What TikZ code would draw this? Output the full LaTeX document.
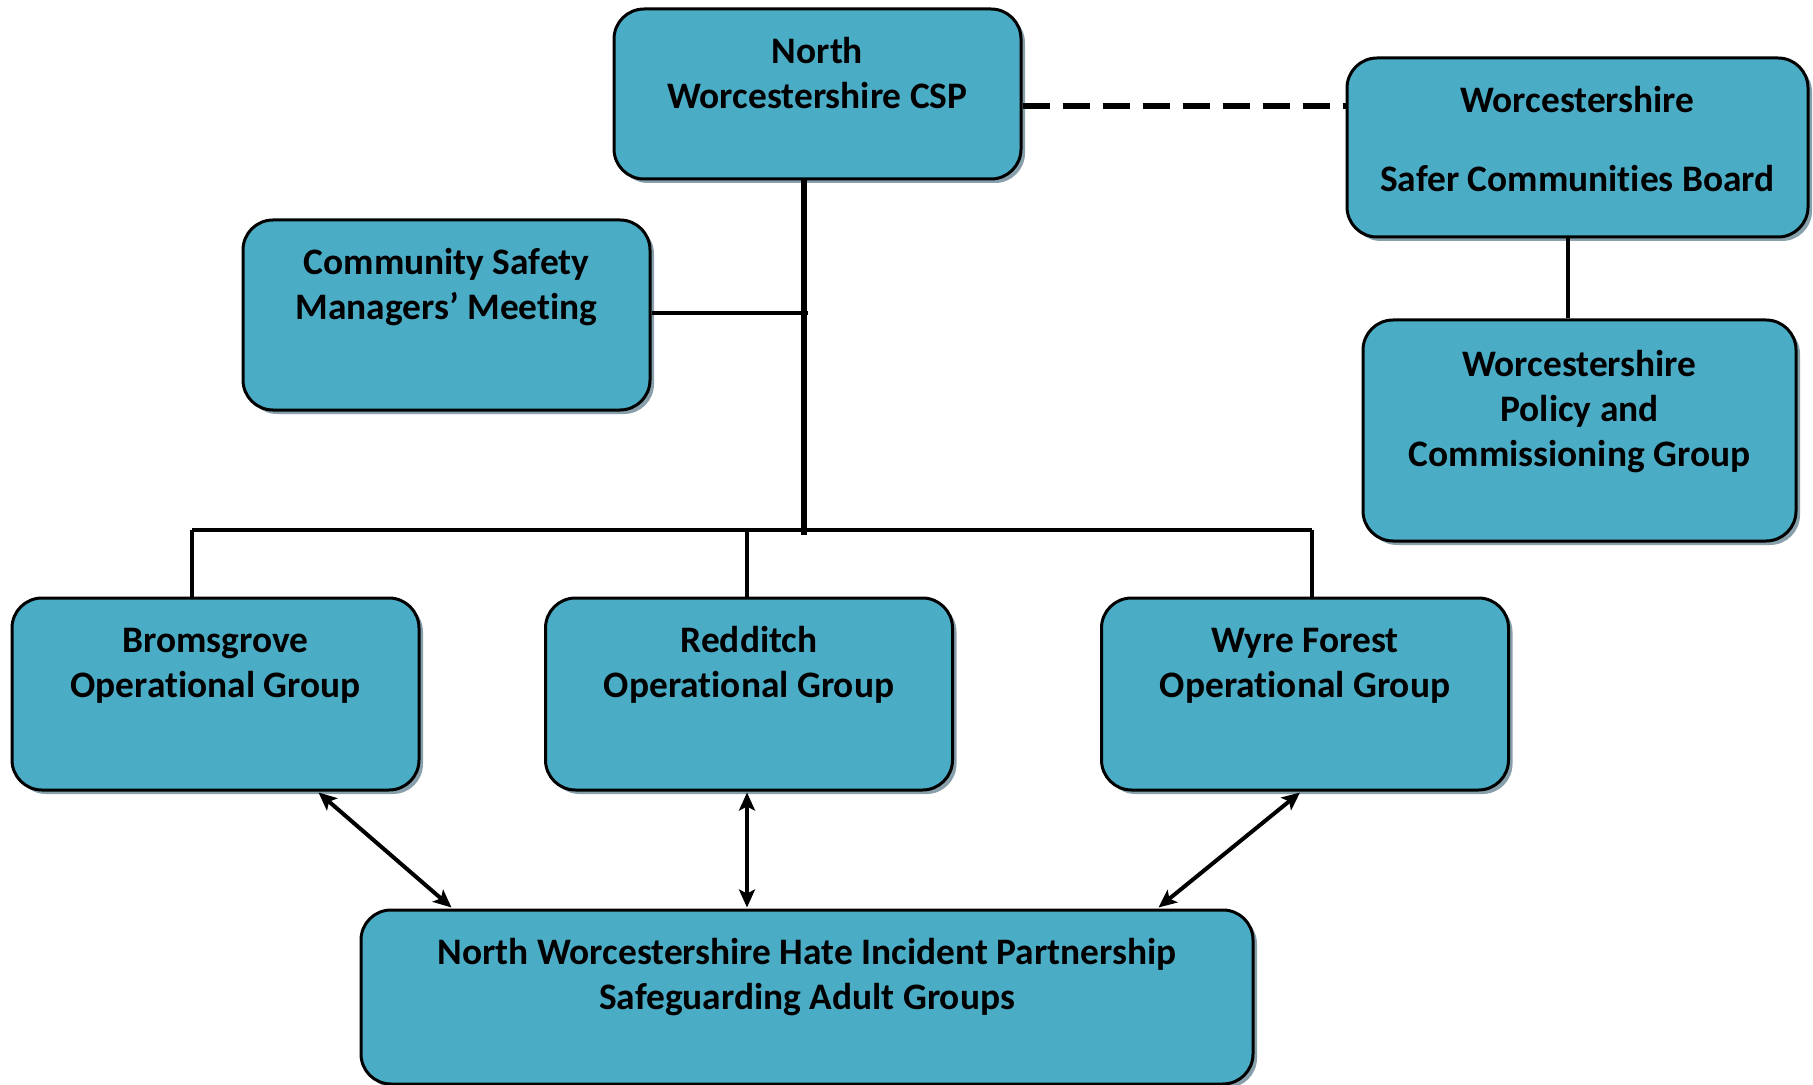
\documentclass[tikz,border=0pt]{standalone}
\usepackage{fontspec}
\setmainfont{Carlito}[Ligatures=NoCommon]
\usetikzlibrary{shadows,arrows.meta,calc}
\definecolor{boxfill}{HTML}{4BACC6}
\definecolor{shadecol}{RGB}{135,160,172}
\begin{document}
\begin{tikzpicture}[x=0.5pt,y=-0.5pt,
  box/.style={draw=black, line width=1.5pt, fill=boxfill, rounded corners=15pt,
    drop shadow={shadow xshift=2pt, shadow yshift=-2pt, fill=shadecol, opacity=1},
    inner sep=0pt},
  lbl/.style={font=\bfseries\fontsize{18.7}{22.5}\selectfont, align=center, anchor=base, inner sep=0pt},
  conn/.style={line width=2pt},
  trunk/.style={line width=2.8pt},
  dashline/.style={line width=2.8pt, dash pattern=on 13.5pt off 6.5pt},
  biarrow/.style={line width=2pt, {Stealth[length=9pt,width=8pt,inset=2pt]}-{Stealth[length=9pt,width=8pt,inset=2pt]}}]
\useasboundingbox (0,0) rectangle (1813,1085);

% boxes
\node[box, minimum width=203.5pt, minimum height=85pt] (csp) at (817.5,94) {};
\node[box, minimum width=230.5pt, minimum height=89.5pt] (scb) at (1577.5,147.5) {};
\node[box, minimum width=216.5pt, minimum height=110.5pt] (policy) at (1579.5,430.5) {};
\node[box, minimum width=203.5pt, minimum height=95pt] (csmm) at (446.5,315) {};
\node[box, minimum width=203.5pt, minimum height=96pt] (brom) at (215.5,694) {};
\node[box, minimum width=203.5pt, minimum height=96pt] (redd) at (749,694) {};
\node[box, minimum width=203.5pt, minimum height=96pt] (wyre) at (1305,694) {};
\node[box, minimum width=446pt, minimum height=87pt] (hate) at (807,997) {};

% labels (anchored at the baseline of the last line)
\node[lbl] (csp-t) at ($(csp.north)+(0,101)$) {North\\Worcestershire CSP};
\node[lbl] (scb-t) at ($(scb.north)+(0,135)$) {Worcestershire\\[17pt]Safer Communities Board};
\node[lbl] (policy-t) at ($(policy.north)+(0,148)$) {Worcestershire\\Policy and\\Commissioning Group};
\node[lbl] (csmm-t) at ($(csmm.north)+(0,101)$) {Community Safety\\Managers’ Meeting};
\node[lbl] (brom-t) at ($(brom.north)+(0,101)$) {Bromsgrove\\Operational Group};
\node[lbl] (redd-t) at ($(redd.north)+(0,101)$) {Redditch\\Operational Group};
\node[lbl] (wyre-t) at ($(wyre.north)+(0,101)$) {Wyre Forest\\Operational Group};
\node[lbl] (hate-t) at ($(hate.north)+(0,101)$) {North Worcestershire Hate Incident Partnership\\Safeguarding Adult Groups};

% connectors
\coordinate (trunkend) at (804,535);
\draw[trunk] (csp.south -| trunkend) -- (trunkend);
\coordinate (csmmj) at (808,313);
\draw[conn] (csmm.east |- csmmj) -- (csmmj);
\coordinate (busL) at (192,530);
\coordinate (busM) at (747,530);
\coordinate (busR) at (1312,530);
\draw[trunk, line width=2.3pt] (busL) -- (busR);
\draw[conn] (busL) -- (busL |- brom.north);
\draw[conn] (busM) -- (busM |- redd.north);
\draw[conn] (busR) -- (busR |- wyre.north);
\coordinate (dashy) at (0,106);
\draw[dashline] (csp.east |- dashy) -- (scb.west |- dashy);
\coordinate (spx) at (1568,0);
\draw[conn] (scb.south -| spx) -- (policy.north -| spx);

% arrows
\draw[biarrow] ($(brom.south east)+(-102,1)$) -- ($(hate.north west)+(92,-1)$);
\draw[biarrow] ($(redd.south -| busM)+(0,1)$) -- ($(hate.north -| busM)+(0,-1)$);
\draw[biarrow] ($(wyre.south east)+(-210,1)$) -- ($(hate.north east)+(-96,-1)$);
\end{tikzpicture}
\end{document}
